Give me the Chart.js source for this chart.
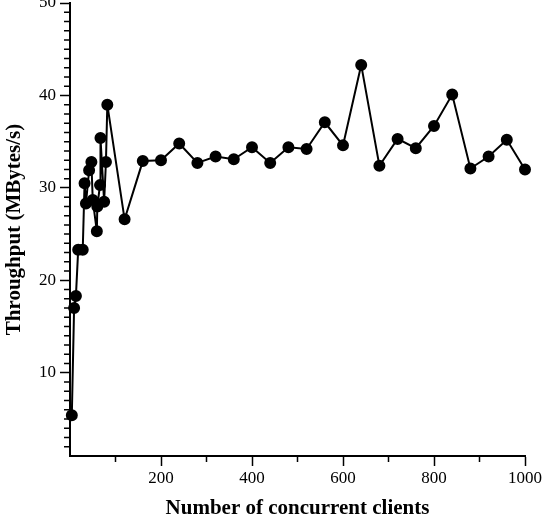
<!DOCTYPE html>
<html>
<head>
<meta charset="utf-8">
<script src="https://cdn.jsdelivr.net/npm/chart.js@4/dist/chart.umd.min.js"></script>
<style>
  html, body { margin: 0; padding: 0; background: #fff; overflow: hidden; }
  #wrap { position: relative; width: 546px; height: 529px; margin-top: -4px; }
</style>
</head>
<body>
<div id="wrap"><canvas id="chart"></canvas></div>
<script>
// concurrent clients (x) and measured throughput in MBytes/s (y)
const clients = [4, 9, 13, 18, 28, 32, 35, 42, 47, 50, 59, 60, 66, 67, 75, 79, 82,
  120, 160, 200, 240, 280, 320, 360, 400, 440, 480, 520, 560, 600, 640,
  680, 720, 760, 800, 840, 880, 920, 960, 1000];
const throughput = [5.4, 17.0, 18.3, 23.3, 23.3, 30.5, 28.3, 31.9, 32.8, 28.7, 25.3, 28.0, 30.3, 35.4, 28.5, 32.8, 39.0,
  26.6, 32.9, 33.0, 34.8, 32.7, 33.4, 33.1, 34.4, 32.7, 34.4, 34.2, 37.1, 34.6, 43.3,
  32.4, 35.3, 34.3, 36.7, 40.1, 32.1, 33.4, 35.2, 32.0];

const xTicks = [200, 400, 600, 800, 1000];
const yTicks = [10, 20, 30, 40, 50];
const xMinor = [100, 300, 500, 700, 900];
const yMinor = [];
for (let v = 2; v < 50; v++) if (v % 10 !== 0) yMinor.push(v);

const serif = "'Liberation Serif', 'Times New Roman', serif";

const minorTicks = {
  id: 'minorTicks',
  afterDraw(chart) {
    const ctx = chart.ctx;
    const x = chart.scales.x, y = chart.scales.y;
    ctx.save();
    ctx.strokeStyle = '#000';
    ctx.lineWidth = 1.5;
    ctx.beginPath();
    xMinor.forEach(v => {
      const px = x.getPixelForValue(v);
      ctx.moveTo(px, x.top);
      ctx.lineTo(px, x.top + 6);
    });
    yMinor.forEach(v => {
      const py = y.getPixelForValue(v);
      ctx.moveTo(y.right, py);
      ctx.lineTo(y.right - 6, py);
    });
    ctx.stroke();
    ctx.restore();
  }
};

const ctx = document.getElementById('chart').getContext('2d');
new Chart(ctx, {
  type: 'scatter',
  data: {
    datasets: [{
      data: clients.map((c, i) => ({ x: c, y: throughput[i] })),
      showLine: true,
      clip: false,
      borderColor: '#000',
      backgroundColor: '#000',
      borderWidth: 2,
      pointRadius: 5,
      pointHoverRadius: 5,
      tension: 0
    }]
  },
  options: {
    responsive: true,
    maintainAspectRatio: false,
    animation: false,
    events: [],
    layout: { padding: { top: 5, right: 21, left: 0, bottom: 0 } },
    plugins: { legend: { display: false }, tooltip: { enabled: false } },
    scales: {
      x: {
        type: 'linear',
        min: 0,
        max: 1000,
        afterBuildTicks: s => { s.ticks = xTicks.map(v => ({ value: v })); },
        afterFit: s => { s.height = 69; },
        border: { color: '#000', width: 2 },
        grid: { display: true, drawOnChartArea: false, tickLength: 10, color: '#000', tickWidth: 1.5 },
        ticks: { color: '#000', font: { family: serif, size: 17 }, padding: 2, maxRotation: 0,
          callback: v => String(v) },
        title: {
          display: true,
          text: 'Number of concurrent clients',
          color: '#000',
          font: { family: serif, size: 21, weight: 'bold' },
          padding: { top: 0, bottom: 4 }
        }
      },
      y: {
        type: 'linear',
        min: 1,
        max: 50,
        afterBuildTicks: s => { s.ticks = yTicks.map(v => ({ value: v })); },
        afterFit: s => { s.width = 70; s.paddingTop = 0; },
        border: { color: '#000', width: 2 },
        grid: { display: true, drawOnChartArea: false, tickLength: 10, color: '#000', tickWidth: 1.5 },
        ticks: { color: '#000', font: { family: serif, size: 17 }, padding: 4 },
        title: {
          display: true,
          text: 'Throughput (MBytes/s)',
          color: '#000',
          font: { family: serif, size: 21, weight: 'bold' },
          padding: { top: 2, bottom: 0 }
        }
      }
    }
  },
  plugins: [minorTicks]
});
</script>
</body>
</html>
